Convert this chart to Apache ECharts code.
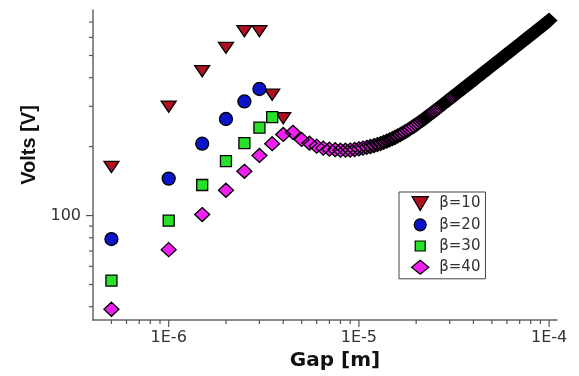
<!DOCTYPE html>
<html><head><meta charset="utf-8">
<script src="https://cdn.jsdelivr.net/npm/echarts@6/dist/echarts.min.js"></script>
<style>html,body{margin:0;padding:0;background:#fff}#c{width:579px;height:376px}</style>
</head><body><div id="c"></div>
<script>
// ---- data (gap in micrometres, volts in V) ----
const seriesNames = ['β=10', 'β=20', 'β=30', 'β=40'];

const gapB10 = [0.5, 1, 1.5, 2, 2.5, 3, 3.5, 4];
const voltsB10 = [163, 299, 427, 540, 638, 638, 337, 266];

const gapB20 = [0.5, 1, 1.5, 2, 2.5, 3];
const voltsB20 = [79, 145, 206, 264, 315, 357];

const gapB30 = [0.5, 1, 1.5, 2, 2.5, 3, 3.5];
const voltsB30 = [52, 95, 136, 173, 207, 242, 269];

const gapB40 = [
  0.5, 1, 1.5, 2, 2.5, 3, 3.5, 4, 4.5, 5,
  5.5, 6, 6.5, 7, 7.5, 8, 8.5, 9, 9.5, 10,
  10.5, 11, 11.5, 12, 12.5, 13, 13.5, 14, 14.5, 15,
  15.5, 16, 16.5, 17, 17.5, 18, 18.5, 19, 19.5, 20,
  20.5, 21, 21.5, 22, 22.5, 23, 23.5, 24, 24.5, 25,
  25.5, 26, 26.5, 27, 27.5, 28, 28.5, 29, 29.5, 30,
  30.5, 31, 31.5, 32, 32.5, 33, 33.5, 34, 34.5, 35,
  35.5, 36, 36.5, 37, 37.5, 38, 38.5, 39, 39.5, 40,
  40.5, 41, 41.5, 42, 42.5, 43, 43.5, 44, 44.5, 45,
  45.5, 46, 46.5, 47, 47.5, 48, 48.5, 49, 49.5, 50,
  50.5, 51, 51.5, 52, 52.5, 53, 53.5, 54, 54.5, 55,
  55.5, 56, 56.5, 57, 57.5, 58, 58.5, 59, 59.5, 60,
  60.5, 61, 61.5, 62, 62.5, 63, 63.5, 64, 64.5, 65,
  65.5, 66, 66.5, 67, 67.5, 68, 68.5, 69, 69.5, 70,
  70.5, 71, 71.5, 72, 72.5, 73, 73.5, 74, 74.5, 75,
  75.5, 76, 76.5, 77, 77.5, 78, 78.5, 79, 79.5, 80,
  80.5, 81, 81.5, 82, 82.5, 83, 83.5, 84, 84.5, 85,
  85.5, 86, 86.5, 87, 87.5, 88, 88.5, 89, 89.5, 90,
  90.5, 91, 91.5, 92, 92.5, 93, 93.5, 94, 94.5, 95,
  95.5, 96, 96.5, 97, 97.5, 98, 98.5, 99, 99.5, 100
];
const voltsB40 = [
  39, 71, 101, 129, 156, 183, 206, 226, 231, 215,
  207, 201, 197, 195, 194, 193, 193, 193.3, 194.3, 195.6,
  197, 198.6, 200.3, 202.2, 204.2, 206.3, 208.8, 211.4, 214.1, 216.9,
  219.8, 222.8, 225.9, 229, 232.3, 235.6, 239, 242.5, 246.1, 249.7,
  253.3, 257, 260.7, 264.4, 268.1, 271.8, 275.5, 279.2, 282.9, 286.6,
  290.3, 294, 297.6, 301.3, 304.9, 308.5, 312.1, 315.7, 319.2, 322.7,
  326.2, 329.7, 333.2, 336.6, 340, 343.4, 346.8, 350.2, 353.5, 356.8,
  360.1, 363.4, 366.7, 370, 373.2, 376.4, 379.6, 382.8, 386, 389.2,
  392.4, 395.6, 398.7, 401.8, 404.9, 408, 411.1, 414.2, 417.3, 420.4,
  423.5, 426.5, 429.5, 432.5, 435.5, 438.5, 441.5, 444.5, 447.5, 450.5,
  453.5, 456.4, 459.3, 462.2, 465.1, 468, 470.9, 473.8, 476.7, 479.6,
  482.5, 485.3, 488.1, 490.9, 493.7, 496.5, 499.3, 502.1, 504.9, 507.7,
  510.5, 513.3, 516.1, 518.8, 521.5, 524.2, 526.9, 529.6, 532.3, 535,
  537.7, 540.4, 543.1, 545.8, 548.5, 551.2, 553.9, 556.5, 559.1, 561.7,
  564.3, 566.9, 569.5, 572.1, 574.7, 577.3, 579.9, 582.5, 585.1, 587.7,
  590.3, 592.9, 595.5, 598.1, 600.7, 603.3, 605.8, 608.3, 610.8, 613.3,
  615.8, 618.3, 620.8, 623.3, 625.8, 628.3, 630.8, 633.3, 635.8, 638.3,
  640.8, 643.3, 645.8, 648.3, 650.8, 653.3, 655.7, 658.1, 660.5, 662.9,
  665.3, 667.7, 670.1, 672.5, 674.9, 677.3, 679.7, 682.1, 684.5, 686.9,
  689.3, 691.7, 694.1, 696.5, 698.9, 701.3, 703.7, 706.1, 708.5, 710.9
];

// axis ticks
const xMajorTicks = [1e-6, 1e-5, 1e-4];
const xMinorTicks = [5e-7, 6e-7, 7e-7, 8e-7, 9e-7,
  2e-6, 3e-6, 4e-6, 5e-6, 6e-6, 7e-6, 8e-6, 9e-6,
  2e-5, 3e-5, 4e-5, 5e-5, 6e-5, 7e-5, 8e-5, 9e-5];
const yMajorTicks = [100];
const yMinorTicks = [40, 50, 60, 70, 80, 90, 200, 300, 400, 500, 600, 700];

const X_MIN = 4e-7, X_MAX = 1.1e-4, Y_MIN = 35, Y_MAX = 790;

// ---- build ----
function pairs(g, v) { return g.map((x, i) => [x * 1e-6, v[i]]); }

const tickData = [];
xMinorTicks.forEach(v => tickData.push([v, Y_MIN, 4, 0]));
xMajorTicks.forEach(v => tickData.push([v, Y_MIN, 7, 0]));
yMinorTicks.forEach(v => tickData.push([X_MIN, v, 4, 1]));
yMajorTicks.forEach(v => tickData.push([X_MIN, v, 7, 1]));

const triDown = 'path://M0,0L14,0L7,12Z';
const sqLegend = 'path://M0,0M14,14M2,2L12,2L12,12L2,12Z';
const circLegend = 'path://M0,0M14,14M7,1A6,6,0,1,1,6.99,1Z';
const diaLegend = 'path://M8,0L16,6.5L8,13L0,6.5Z';

function style(color, bw) { return { color: color, borderColor: '#000', borderWidth: bw, opacity: 1 }; }

const chart = echarts.init(document.getElementById('c'), null, { renderer: 'canvas' });
chart.setOption({
  animation: false,
  backgroundColor: '#fff',
  grid: { left: 93, right: 22, top: 10, bottom: 56 },
  legend: {
    data: [
      { name: seriesNames[0], icon: triDown },
      { name: seriesNames[1], icon: circLegend },
      { name: seriesNames[2], icon: sqLegend },
      { name: seriesNames[3], icon: diaLegend }
    ],
    orient: 'vertical',
    left: 399, top: 192,
    padding: [4, 5, 4, 12],
    itemGap: 6, itemWidth: 28, itemHeight: 14,
    borderColor: '#444', borderWidth: 1,
    backgroundColor: '#fff',
    itemStyle: { opacity: 1, borderWidth: 1.2, borderColor: '#000' },
    textStyle: { fontFamily: 'DejaVu Sans', fontSize: 15, color: '#333' },
    selectedMode: false
  },
  xAxis: {
    type: 'log', logBase: 10, min: X_MIN, max: X_MAX,
    name: 'Gap [m]', nameLocation: 'middle', nameGap: 20,
    nameTextStyle: { fontFamily: 'DejaVu Sans', fontWeight: 'bold', fontSize: 20, color: '#111', padding: [0, 0, 0, 20] },
    axisLine: { show: true, lineStyle: { color: '#666', width: 1.5 } },
    axisTick: { show: false },
    splitLine: { show: false },
    minorTick: { show: false },
    axisLabel: {
      showMinLabel: false, showMaxLabel: false, margin: 10,
      fontFamily: 'DejaVu Sans', fontSize: 16, color: '#333',
      formatter: v => '1E' + Math.round(Math.log10(v))
    }
  },
  yAxis: {
    type: 'log', logBase: 10, min: Y_MIN, max: Y_MAX,
    name: 'Volts [V]', nameLocation: 'middle', nameGap: 37, nameRotate: 90,
    nameTextStyle: { fontFamily: 'Liberation Sans', fontWeight: 'bold', fontSize: 20, color: '#111', padding: [0, 0, 0, 40] },
    axisLine: { show: true, lineStyle: { color: '#666', width: 1.5 } },
    axisTick: { show: false },
    splitLine: { show: false },
    minorTick: { show: false },
    axisLabel: {
      showMinLabel: false, showMaxLabel: false, margin: 12,
      fontFamily: 'DejaVu Sans', fontSize: 16, color: '#333',
      formatter: v => String(Math.round(v))
    }
  },
  series: [
    {
      name: seriesNames[0], type: 'scatter', data: pairs(gapB10, voltsB10),
      symbol: triDown, symbolSize: [15, 13], symbolKeepAspect: true,
      itemStyle: style('#b01020', 1.3), emphasis: { disabled: true }
    },
    {
      name: seriesNames[1], type: 'scatter', data: pairs(gapB20, voltsB20),
      symbol: 'circle', symbolSize: 13,
      itemStyle: style('#0a14c8', 1.3), emphasis: { disabled: true }
    },
    {
      name: seriesNames[2], type: 'scatter', data: pairs(gapB30, voltsB30),
      symbol: 'rect', symbolSize: 11,
      itemStyle: style('#28e028', 1.3), emphasis: { disabled: true }
    },
    {
      name: seriesNames[3], type: 'scatter', data: pairs(gapB40, voltsB40),
      symbol: 'diamond', symbolSize: [15, 14], large: true, largeThreshold: 50,
      itemStyle: style('#f020f0', 1.3), emphasis: { disabled: true }
    },
    {
      name: 'ticks', type: 'custom', data: tickData, silent: true, clip: false, z: 5,
      encode: { x: 0, y: 1 },
      renderItem: function (params, api) {
        const p = api.coord([api.value(0), api.value(1)]);
        const len = api.value(2);
        const isY = api.value(3) === 1;
        return {
          type: 'line',
          shape: isY ? { x1: p[0] - len, y1: p[1], x2: p[0], y2: p[1] }
                     : { x1: p[0], y1: p[1], x2: p[0], y2: p[1] + len },
          style: { stroke: '#555', lineWidth: 1.2 }
        };
      }
    }
  ]
});
</script></body></html>
